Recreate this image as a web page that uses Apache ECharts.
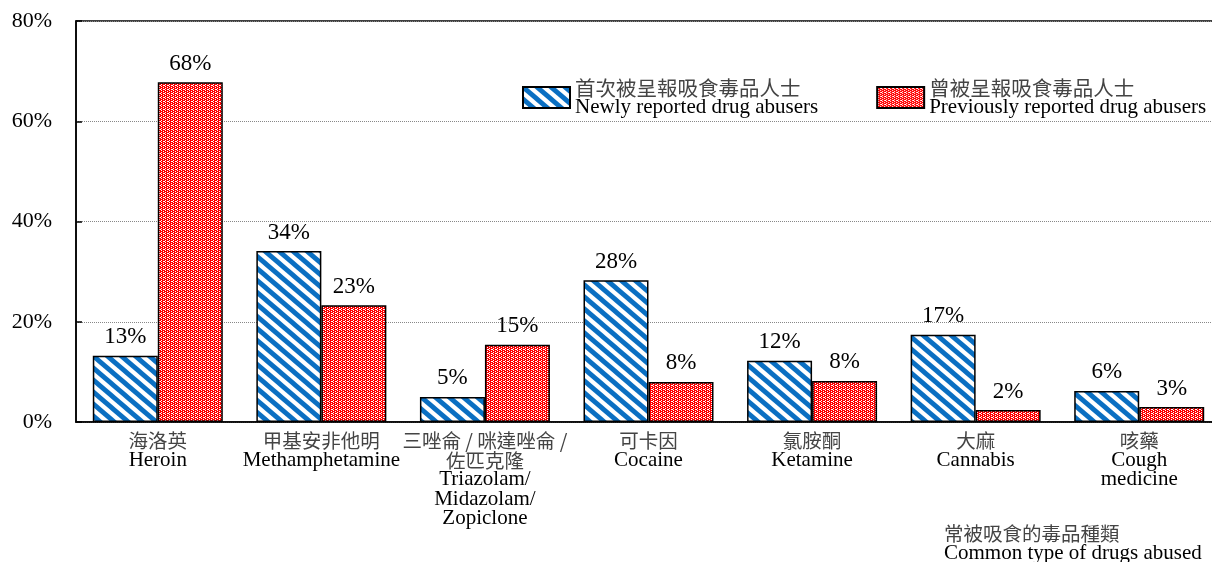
<!DOCTYPE html>
<html><head><meta charset="utf-8">
<script src="https://cdn.jsdelivr.net/npm/echarts@6/dist/echarts.min.js"></script>
<style>html,body{margin:0;padding:0;background:#fff}#c{width:1212px;height:562px}</style>
</head><body><div id="c"></div>
<script>
var categories = [
  '海洛英\nHeroin',
  '甲基安非他明\nMethamphetamine',
  '三唑侖 / 咪達唑侖 /\n佐匹克隆\nTriazolam/\nMidazolam/\nZopiclone',
  '可卡因\nCocaine',
  '氯胺酮\nKetamine',
  '大麻\nCannabis',
  '咳藥\nCough\nmedicine'
];
var newlyReported = [13.2, 34.1, 5.0, 28.3, 12.2, 17.4, 6.2];
var previouslyReported = [67.8, 23.3, 15.4, 8.0, 8.2, 2.4, 3.0];
var seriesNames = ['首次被呈報吸食毒品人士\nNewly reported drug abusers', '曾被呈報吸食毒品人士\nPreviously reported drug abusers'];
var yTicks = [0, 20, 40, 60, 80];
var axisName = '常被吸食的毒品種類\nCommon type of drugs abused';

var FONT = '"Liberation Serif", "Noto Sans CJK TC", serif';
var CJKFONT = '"Noto Sans CJK TC", "Liberation Serif", sans-serif';
var RICH = {
  c: { fontFamily: CJKFONT, fontSize: 19.5, color: '#444', lineHeight: 19.5 },
  e: { fontFamily: FONT, fontSize: 21, color: '#000', lineHeight: 19.5 }
};
var RICH_LEGEND = {
  c: { fontFamily: CJKFONT, fontSize: 20.5, color: '#444', lineHeight: 19.5 },
  e: { fontFamily: FONT, fontSize: 21, color: '#000', lineHeight: 19.5 }
};
function richLines(s) {
  return s.split('\n').map(function (line) {
    return (/[\u3400-\u9fff]/.test(line) ? '{c|' : '{e|') + line + '}';
  }).join('\n');
}

function stripeCanvas() {
  var w = 14, h = 12;
  var c = document.createElement('canvas'); c.width = w; c.height = h;
  var g = c.getContext('2d');
  g.fillStyle = '#ffffff'; g.fillRect(0, 0, w, h);
  g.strokeStyle = '#0a6fc2'; g.lineWidth = 4.8;
  for (var k = -1; k <= 1; k++) {
    g.beginPath(); g.moveTo(k * w - w, -h); g.lineTo(k * w + 2 * w, 2 * h); g.stroke();
  }
  return c;
}
function dotCanvas() {
  var c = document.createElement('canvas'); c.width = 4; c.height = 4;
  var g = c.getContext('2d');
  g.fillStyle = '#ff0000'; g.fillRect(0, 0, 4, 4);
  g.fillStyle = '#ffffff';
  [[1,0],[3,1],[1,2],[3,3],[0,1]].forEach(function(p){ g.fillRect(p[0], p[1], 1, 1); });
  return c;
}
var bluePattern = { image: stripeCanvas(), repeat: 'repeat' };
var redPattern = { image: dotCanvas(), repeat: 'repeat' };

var chart = echarts.init(document.getElementById('c'), null, { renderer: 'canvas' });
var labelCfg = {
  show: true, position: 'top', distance: 7,
  fontFamily: FONT, fontSize: 23, color: '#000',
  formatter: function (p) { return Math.round(p.value) + '%'; }
};
chart.setOption({
  animation: false,
  backgroundColor: '#fff',
  textStyle: { fontFamily: FONT },
  title: {
    text: richLines(axisName), left: 939, top: 519,
    textStyle: { fontFamily: FONT, fontSize: 21, fontWeight: 'normal', color: '#000', lineHeight: 19.5, rich: RICH }
  },
  legend: {
    left: 517, top: 72.5,
    itemWidth: 47, itemHeight: 21, itemGap: 58,
    icon: 'rect',
    formatter: function (name) { return richLines(name); },
    textStyle: { fontFamily: FONT, fontSize: 21, color: '#000', lineHeight: 19.5, rich: RICH_LEGEND },
    data: seriesNames
  },
  grid: {
    left: 76, top: 21, width: 1145, height: 401,
    outerBoundsMode: 'none', containLabel: false,
    show: true, borderColor: '#000', borderWidth: 1.5, backgroundColor: 'transparent'
  },
  xAxis: {
    type: 'category', data: categories,
    axisLine: { lineStyle: { color: '#000', width: 1.5 } },
    axisTick: { show: false },
    axisLabel: {
      interval: 0, fontFamily: FONT, fontSize: 21, color: '#000', lineHeight: 19.5, margin: 9,
      formatter: function (v) { return richLines(v); }, rich: RICH
    }
  },
  yAxis: {
    type: 'value', min: yTicks[0], max: yTicks[yTicks.length - 1], interval: 20,
    axisLine: { show: true, lineStyle: { color: '#000', width: 1.5 } },
    axisTick: { show: true, inside: true, length: 6, lineStyle: { color: '#000', width: 1.5 } },
    splitLine: { show: true, lineStyle: { color: '#888', type: [1, 1], width: 1 } },
    axisLabel: { fontFamily: FONT, fontSize: 22, color: '#000', margin: 24, formatter: '{value}%' }
  },
  series: [
    {
      name: seriesNames[0], type: 'bar', data: newlyReported,
      barWidth: 65, barGap: '0%',
      itemStyle: { color: bluePattern, borderColor: '#000', borderWidth: 1.5 },
      label: labelCfg
    },
    {
      name: seriesNames[1], type: 'bar', data: previouslyReported,
      barWidth: 65, barGap: '0%',
      itemStyle: { color: redPattern, borderColor: '#000', borderWidth: 1.5 },
      label: labelCfg
    }
  ]
});
</script></body></html>
